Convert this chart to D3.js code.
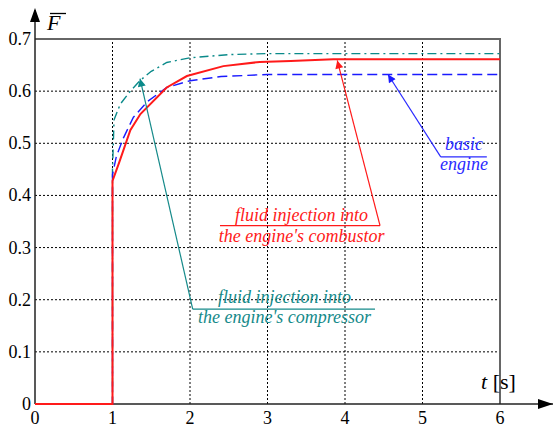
<!DOCTYPE html>
<html>
<head>
<meta charset="utf-8">
<script src="https://cdn.jsdelivr.net/npm/d3@7"></script>
<style>
  body { margin: 0; background: #fff; }
  svg text { font-family: "Liberation Serif", serif; }
</style>
</head>
<body>
<svg id="chart" width="555" height="430"></svg>
<script>
// time ticks and value ticks
const xTicks = [0, 1, 2, 3, 4, 5, 6];
const yTicks = [0, 0.1, 0.2, 0.3, 0.4, 0.5, 0.6, 0.7];
const yTickLabels = ["0", "0.1", "0.2", "0.3", "0.4", "0.5", "0.6", "0.7"];

// thrust curves [t, F]
const basicEngine = [[0, 0], [1, 0], [1, 0.44], [1.05, 0.475], [1.14, 0.51], [1.27, 0.55],
  [1.45, 0.58], [1.7, 0.607], [2.0, 0.62], [2.4, 0.628], [3.0, 0.632], [6, 0.632]];
const combustorInj = [[0, 0], [1, 0], [1, 0.428], [1.09, 0.465], [1.23, 0.525], [1.36, 0.556],
  [1.7, 0.607], [1.96, 0.629], [2.43, 0.648], [2.9, 0.656], [3.3, 0.658], [3.85, 0.661], [6, 0.661]];
const compressorInj = [[0, 0], [1, 0], [1, 0.45], [1.02, 0.545], [1.1, 0.575], [1.23, 0.6],
  [1.36, 0.621], [1.5, 0.638], [1.7, 0.655], [2.0, 0.664], [2.5, 0.67], [3.0, 0.672], [6, 0.672]];

const FONT = "Liberation Serif";
const svg = d3.select("#chart");
const x = d3.scaleLinear().domain([0, 6]).range([35, 500]);
const y = d3.scaleLinear().domain([0, 0.7]).range([404, 39]);

const defs = svg.append("defs");
function marker(id, color) {
  defs.append("marker")
    .attr("id", id)
    .attr("viewBox", "0 0 10 10")
    .attr("refX", 10).attr("refY", 5)
    .attr("markerWidth", 10).attr("markerHeight", 8)
    .attr("markerUnits", "userSpaceOnUse")
    .attr("orient", "auto")
    .append("path").attr("d", "M0,0L10,5L0,10Z").attr("fill", color);
}
marker("arBlue", "#1a1aff");
marker("arRed", "#ff1a1a");
marker("arTeal", "#0a8a8a");

// grid
const grid = svg.append("g").attr("stroke", "#000").attr("stroke-width", 1)
  .attr("stroke-dasharray", "2,2").attr("fill", "none");
grid.selectAll(".gx").data(xTicks.slice(1, -1)).enter().append("line")
  .attr("x1", d => x(d)).attr("x2", d => x(d))
  .attr("y1", y(0)).attr("y2", y(0.7));
grid.selectAll(".gy").data(yTicks.slice(1, -1)).enter().append("line")
  .attr("x1", x(0)).attr("x2", x(6))
  .attr("y1", d => y(d)).attr("y2", d => y(d));

// frame top and right
svg.append("path")
  .attr("d", `M${x(0)},${y(0.7)}H${x(6)}V${y(0)}`)
  .attr("fill", "none").attr("stroke", "#666").attr("stroke-width", 2);

// axes with arrows
svg.append("line").attr("x1", x(0)).attr("x2", 553).attr("y1", y(0)).attr("y2", y(0))
  .attr("stroke", "#222").attr("stroke-width", 1.5);
svg.append("path").attr("d", `M553,${y(0)}l-15,-5v10z`).attr("fill", "#000");
svg.append("line").attr("x1", x(0)).attr("x2", x(0)).attr("y1", y(0)).attr("y2", 10)
  .attr("stroke", "#222").attr("stroke-width", 1.5);
svg.append("path").attr("d", `M${x(0)},8l-5,14h10z`).attr("fill", "#000");

// tick labels
svg.selectAll(".yl").data(yTicks).enter().append("text")
  .attr("x", 31).attr("y", d => y(d) + 6)
  .attr("text-anchor", "end").attr("font-size", 18).attr("font-family", FONT)
  .text((d, i) => yTickLabels[i]);
svg.selectAll(".xl").data(xTicks).enter().append("text")
  .attr("x", d => x(d)).attr("y", 424)
  .attr("text-anchor", "middle").attr("font-size", 18).attr("font-family", FONT)
  .text(d => d);

// axis titles
svg.append("text").attr("x", 47).attr("y", 30).attr("font-size", 22)
  .attr("font-family", FONT).attr("font-style", "italic").text("F");
svg.append("line").attr("x1", 50).attr("x2", 66).attr("y1", 13.5).attr("y2", 13.5)
  .attr("stroke", "#000").attr("stroke-width", 1.3);
const tl = svg.append("text").attr("x", 481).attr("y", 389).attr("font-size", 22)
  .attr("font-family", FONT);
tl.append("tspan").attr("font-style", "italic").text("t");
tl.append("tspan").text(" [s]");

// curves
const line = d3.line().x(d => x(d[0])).y(d => y(d[1]));
svg.append("path").datum(compressorInj).attr("d", line)
  .attr("fill", "none").attr("stroke", "#0a8a8a").attr("stroke-width", 1.4)
  .attr("stroke-dasharray", "9,4,2,4");
svg.append("path").datum(basicEngine).attr("d", line)
  .attr("fill", "none").attr("stroke", "#1a1aff").attr("stroke-width", 1.4)
  .attr("stroke-dasharray", "10,5");
svg.append("path").datum(combustorInj).attr("d", line)
  .attr("fill", "none").attr("stroke", "#ff1a1a").attr("stroke-width", 2);

// annotation: leader from underline end to curve, underline, two text lines
function note(color, mk, tailT, endT, lineV, tipT, tipV, textT, lines, bases) {
  svg.append("line")
    .attr("x1", x(tailT)).attr("y1", y(lineV))
    .attr("x2", x(tipT)).attr("y2", y(tipV))
    .attr("stroke", color).attr("stroke-width", 1.2)
    .attr("marker-end", `url(#${mk})`);
  svg.append("line")
    .attr("x1", x(tailT)).attr("x2", x(endT))
    .attr("y1", y(lineV)).attr("y2", y(lineV))
    .attr("stroke", color).attr("stroke-width", 1.2);
  lines.forEach((s, i) => {
    svg.append("text").attr("x", x(textT)).attr("y", y(bases[i]))
      .attr("text-anchor", "middle").attr("font-size", 18)
      .attr("font-family", FONT).attr("font-style", "italic")
      .attr("fill", color).text(s);
  });
}
note("#2a2aff", "arBlue", 5.235, 5.83, 0.474, 4.555, 0.632, 5.535,
  ["basic", "engine"], [0.487, 0.449]);
note("#ff1a1a", "arRed", 4.452, 2.387, 0.342, 3.9, 0.659, 3.44,
  ["fluid injection into", "the engine's combustor"], [0.3515, 0.3113]);
note("#158a8a", "arTeal", 2.035, 4.387, 0.182, 1.355, 0.624, 3.22,
  ["fluid injection into", "the engine's compressor"], [0.193, 0.156]);
</script>
</body>
</html>
